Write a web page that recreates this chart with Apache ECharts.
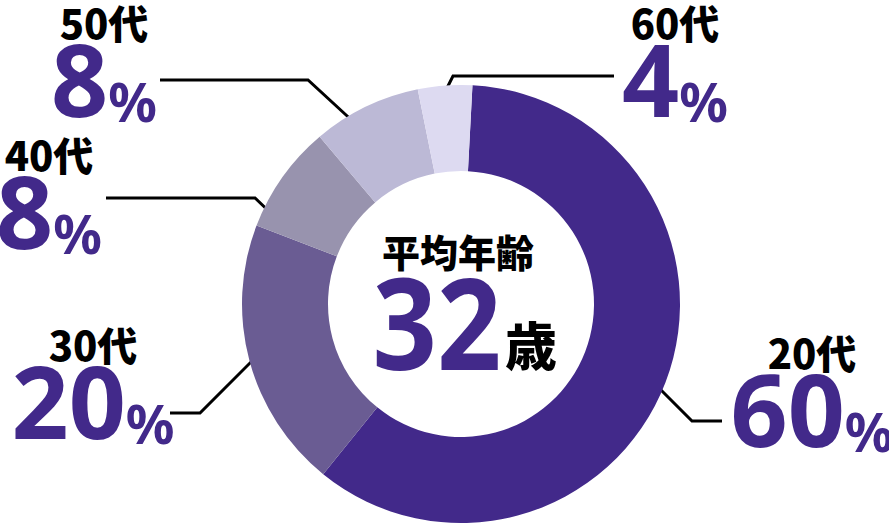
<!DOCTYPE html>
<html>
<head>
<meta charset="UTF-8">
<title>平均年齢</title>
<script src="https://cdn.jsdelivr.net/npm/echarts@6/dist/echarts.min.js"></script>
<style>
html,body{margin:0;padding:0;background:#fff;}
#main{width:889px;height:524px;}
</style>
</head>
<body>
<div id="main"></div>
<script>
// 年代別の構成比
var ages = ['20代', '30代', '40代', '50代', '60代'];
var shares = [60, 20, 8, 8, 4];
var avgAge = 32;

var colors = ['#42298a', '#6a5c93', '#9893ae', '#bcb9d6', '#dddaf1'];
var purple = '#42298a';
var jp = '"Noto Sans CJK JP"';
var num = '"Noto Sans"';

// ラベルの位置と引き出し線 (px)
var labelPos = [
	{x: 812, y: 330, line: [[652, 381], [692, 421], [722, 421]]},
	{x: 93, y: 322, line: [[263, 350], [200, 413], [170, 413]]},
	{x: 49, y: 132, line: [[278, 220], [255, 198], [106, 198]]},
	{x: 104, y: 0, line: [[358, 126], [308, 80], [160, 80]]},
	{x: 675, y: 0, line: [[442, 98], [453, 76], [614, 76]]}
];

var data = [];
for (var i = 0; i < ages.length; i++) {
	data.push({name: ages[i], value: shares[i], itemStyle: {color: colors[i]}});
}

var chart = echarts.init(document.getElementById('main'), null, {renderer: 'svg'});

chart.setOption({
	animation: false,
	graphic: [
		{
			type: 'text',
			x: 458,
			y: 250,
			style: {
				text: '平均年齢',
				fill: '#000',
				font: '900 38px ' + jp,
				align: 'center',
				verticalAlign: 'middle'
			}
		},
		{
			type: 'text',
			x: 437,
			y: 320,
			scaleX: 0.88,
			style: {
				text: String(avgAge),
				fill: purple,
				font: 'bold 128px ' + num,
				align: 'center',
				verticalAlign: 'middle'
			}
		},
		{
			type: 'text',
			x: 531,
			y: 343,
			style: {
				text: '歳',
				fill: '#000',
				font: '900 52px ' + jp,
				align: 'center',
				verticalAlign: 'middle'
			}
		}
	],
	series: [{
		type: 'pie',
		center: [461, 304],
		radius: [133, 219],
		startAngle: 87,
		clockwise: true,
		avoidLabelOverlap: false,
		itemStyle: {borderWidth: 0},
		emphasis: {disabled: true},
		data: data,
		label: {
			show: true,
			formatter: '{n|{b}}\n{v|{c}}{p|%}',
			rich: {
				n: {fontFamily: jp, fontWeight: 900, fontSize: 40, color: '#000', lineHeight: 44, align: 'center'},
				v: {fontFamily: num, fontWeight: 'bold', fontSize: 100, color: purple, lineHeight: 84, verticalAlign: 'bottom'},
				p: {fontFamily: num, fontWeight: 'bold', fontSize: 54, color: purple, lineHeight: 66, verticalAlign: 'bottom'}
			}
		},
		labelLine: {
			show: true,
			smooth: false,
			lineStyle: {color: '#000', width: 3}
		},
		labelLayout: function (params) {
			var p = labelPos[params.dataIndex];
			return {
				x: p.x,
				y: p.y,
				align: 'center',
				verticalAlign: 'top',
				labelLinePoints: p.line
			};
		}
	}]
});
</script>
</body>
</html>
